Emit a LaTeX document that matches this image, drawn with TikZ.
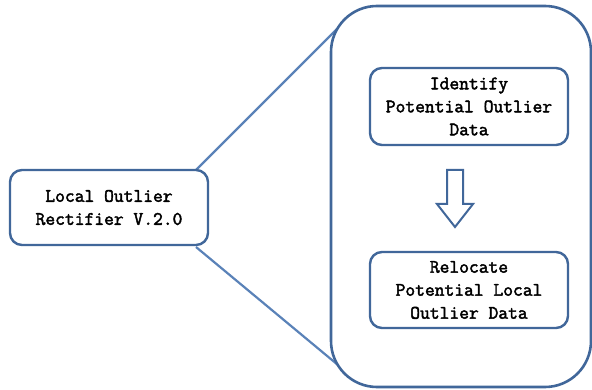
\documentclass[tikz,border=0pt]{standalone}
\usepackage{fontspec}
\newfontfamily\boxfont{Latin Modern Mono}[FakeBold=2.2]
\definecolor{edgeblue}{HTML}{41679A}
\definecolor{linkblue}{HTML}{5A82B8}
\tikzset{
  box/.style={draw=edgeblue, line width=2.4pt, rounded corners=12pt, fill=white,
    align=center, font=\boxfont\fontsize{19}{23}\selectfont,
    minimum width=198pt, inner sep=0pt},
  link/.style={draw=linkblue, line width=2.2pt},
  bigbox/.style={draw=edgeblue, line width=2.6pt, rounded corners=46pt},
  downarrow/.style={draw=edgeblue, line width=2pt, fill=white, line join=miter}
}
\begin{document}
\begin{tikzpicture}[x=1pt, y=-1pt]
  \useasboundingbox (0,0) rectangle (592,390);
  % links fanning out to the expanded panel
  \coordinate (ta) at (196,170);
  \coordinate (tb) at (337,29);
  \coordinate (ba) at (196,247);
  \coordinate (bb) at (338,365);
  \draw[link] (ta) -- (tb);
  \draw[link] (ba) -- (bb);
  % left node
  \node[box, minimum height=75pt] (lor) at (109,207.5) {Local Outlier\\Rectifier V.2.0};
  % expanded panel
  \draw[bigbox, fill=white] (331,6) rectangle (591,387);
  \node[box, minimum height=77pt] (ident) at (469,106.5) {Identify\\Potential Outlier\\Data};
  \node[box, minimum height=76pt] (reloc) at (469,290) {Relocate\\Potential Local\\Outlier Data};
  % hollow down arrow between the steps
  \draw[downarrow] (447,170) -- (463,170) -- (463,204) -- (473,204) -- (455,227)
    -- (437,204) -- (447,204) -- cycle;
\end{tikzpicture}
\end{document}
